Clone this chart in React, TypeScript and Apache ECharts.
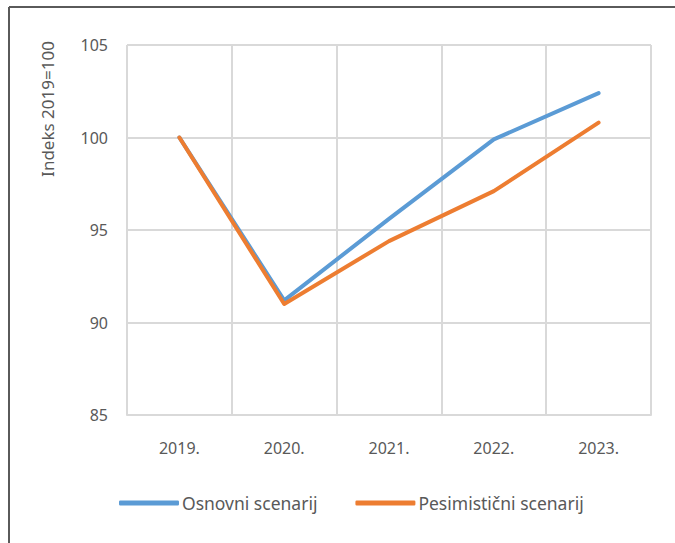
import React, { useEffect, useRef } from "react";
import * as echarts from "echarts";

const categories = ["2019.", "2020.", "2021.", "2022.", "2023."];
const osnovni = [100, 91.2, 95.6, 99.9, 102.4];
const pesimisticni = [100, 91.0, 94.4, 97.1, 100.8];
const seriesNames = ["Osnovni scenarij", "Pesimistični scenarij"];
const yAxisTitle = "Indeks 2019=100";

const FONT = "'Noto Sans', 'Open Sans', sans-serif";
const TEXT = "#595959";

export default function App() {
  const ref = useRef<HTMLDivElement>(null);
  useEffect(() => {
    if (!ref.current) return;
    const chart = echarts.init(ref.current, undefined, { renderer: "svg" });
    chart.setOption({
      animation: false,
      backgroundColor: "#ffffff",
      grid: { left: 127, right: 24, top: 45, bottom: 128, containLabel: false },
      legend: {
        left: 114,
        top: 489,
        itemWidth: 60,
        itemHeight: 5,
        itemGap: 38,
        icon: "roundRect",
        textStyle: { color: TEXT, fontSize: 17.5, fontFamily: FONT, padding: [0, 0, 0, -2] },
        data: seriesNames,
      },
      xAxis: {
        type: "category",
        data: categories,
        boundaryGap: true,
        axisLine: { show: true, lineStyle: { color: "#d9d9d9", width: 2 } },
        axisTick: { show: false },
        splitLine: { show: true, lineStyle: { color: "#d9d9d9", width: 2 } },
        axisLabel: { color: TEXT, fontSize: 16, fontFamily: FONT, margin: 25 },
      },
      yAxis: {
        type: "value",
        min: 85,
        max: 105,
        interval: 5,
        axisLine: { show: false },
        axisTick: { show: false },
        splitLine: { show: true, lineStyle: { color: "#d9d9d9", width: 2 } },
        axisLabel: { color: TEXT, fontSize: 16, fontFamily: FONT, margin: 19 },
      },
      graphic: [
        { type: "line", shape: { x1: 9, y1: 7, x2: 675, y2: 7 }, style: { stroke: "#5a5a5a", lineWidth: 2 } },
        { type: "line", shape: { x1: 9, y1: 7, x2: 9, y2: 543 }, style: { stroke: "#5a5a5a", lineWidth: 2 } },
        { type: "line", shape: { x1: 651, y1: 45, x2: 651, y2: 415 }, style: { stroke: "#d9d9d9", lineWidth: 2 } },
        {
          type: "text",
          x: 47,
          y: 109,
          rotation: Math.PI / 2,
          style: {
            text: yAxisTitle,
            fill: TEXT,
            font: `17px ${FONT}`,
            align: "center",
            verticalAlign: "middle",
          },
        },
      ],
      series: [
        {
          name: seriesNames[0],
          type: "line",
          data: osnovni,
          symbol: "none",
          lineStyle: { color: "#5B9BD5", width: 4, cap: "round", join: "round" },
          itemStyle: { color: "#5B9BD5" },
        },
        {
          name: seriesNames[1],
          type: "line",
          data: pesimisticni,
          symbol: "none",
          lineStyle: { color: "#ED7D31", width: 4, cap: "round", join: "round" },
          itemStyle: { color: "#ED7D31" },
        },
      ],
    });
    return () => chart.dispose();
  }, []);
  return (
    <div
      ref={ref}
      style={{ position: "absolute", left: 0, top: 0, width: 675, height: 543 }}
    />
  );
}
